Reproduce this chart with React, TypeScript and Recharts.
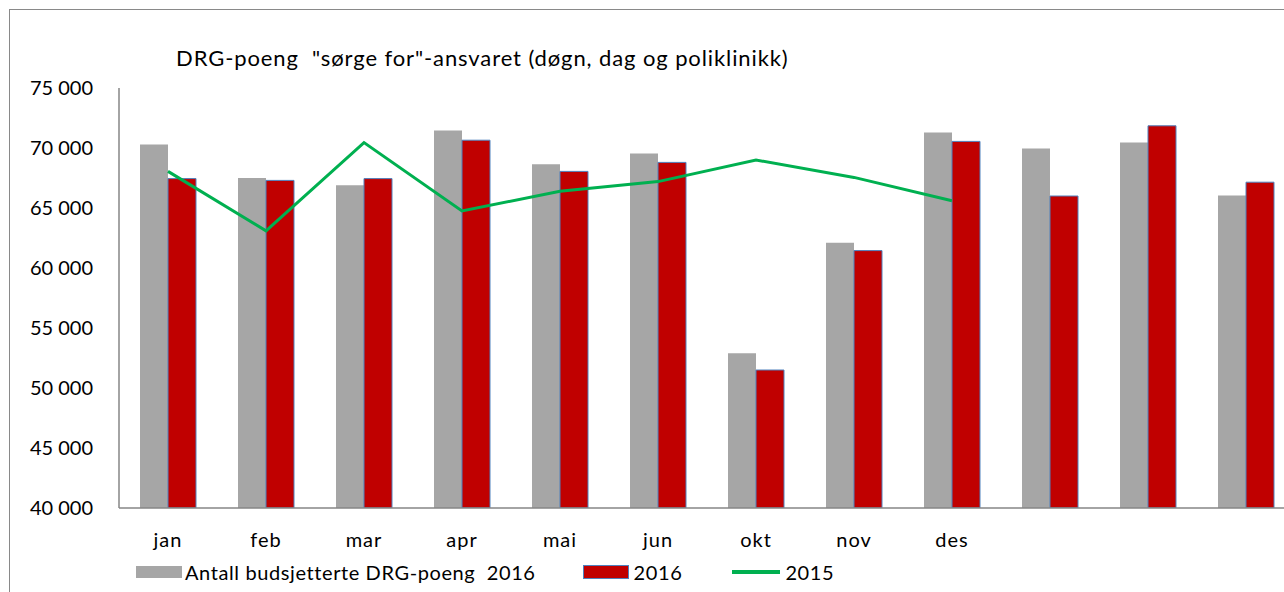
import { ComposedChart, Bar, Line, XAxis, YAxis } from 'recharts';

const months = ['jan', 'feb', 'mar', 'apr', 'mai', 'jun', 'okt', 'nov', 'des', '', '', ''];
const budget2016 = [70300, 67500, 66900, 71450, 68650, 69550, 52900, 62100, 71300, 69950, 70450, 66050];
const actual2016 = [67450, 67300, 67450, 70650, 68050, 68800, 51500, 61450, 70550, 66000, 71850, 67150];
const actual2015 = [68050, 63100, 70450, 64750, 66400, 67200, 69000, 67550, 65600, null, null, null];
const yTicks = [40000, 45000, 50000, 55000, 60000, 65000, 70000, 75000];

const data = months.map((m, i) => ({
  month: m,
  budget: budget2016[i],
  actual: actual2016[i],
  prev: actual2015[i],
}));

const font = 'Lato, "Open Sans", sans-serif';

const fmt = (v: number) => `${Math.floor(v / 1000)} ${String(v % 1000).padStart(3, '0')}`;

export default function App() {
  return (
    <div
      style={{
        position: 'fixed',
        left: 0,
        top: 0,
        width: 1284,
        height: 592,
        overflow: 'hidden',
        background: '#fff',
        fontFamily: font,
      }}
    >
      <div
        style={{
          position: 'absolute',
          left: 9,
          top: 9,
          width: 1400,
          height: 700,
          borderLeft: '1px solid #898989',
          borderTop: '1px solid #898989',
        }}
      />
      <div
        style={{
          position: 'absolute',
          left: 176,
          top: 44,
          fontSize: 22,
          letterSpacing: 0.9,
          whiteSpace: 'pre',
          color: '#000',
        }}
      >
        DRG-poeng  "sørge for"-ansvaret (døgn, dag og poliklinikk)
      </div>
      <ComposedChart
        width={1310}
        height={592}
        data={data}
        barGap={0}
        margin={{ top: 88, right: 15, bottom: 54, left: 19 }}
        style={{ position: 'absolute', left: 0, top: 0 }}
      >
        <XAxis
          dataKey="month"
          height={30}
          tickLine={false}
          axisLine={{ stroke: '#868686', strokeWidth: 1.5 }}
          tickSize={0}
          tickMargin={25}
          tick={{ fontSize: 20, fill: '#000', fontFamily: font, letterSpacing: 1 }}
          interval={0}
        />
        <YAxis
          width={100}
          domain={[40000, 75000]}
          ticks={yTicks}
          tickFormatter={fmt}
          tickLine={false}
          tickSize={0}
          tickMargin={26}
          axisLine={{ stroke: '#868686', strokeWidth: 1.5 }}
          tick={{ fontSize: 20, fill: '#000', fontFamily: font }}
          allowDataOverflow
        />
        <Bar dataKey="budget" fill="#A6A6A6" barSize={28} isAnimationActive={false} />
        <Bar
          dataKey="actual"
          fill="#C00000"
          stroke="#4F81BD"
          strokeWidth={1}
          barSize={28}
          isAnimationActive={false}
        />
        <Line
          dataKey="prev"
          stroke="#00B050"
          strokeWidth={3}
          dot={false}
          type="linear"
          isAnimationActive={false}
        />
      </ComposedChart>
      <div
        style={{
          position: 'absolute',
          left: 136,
          top: 560,
          display: 'flex',
          alignItems: 'center',
          fontSize: 20,
          letterSpacing: 0.6,
          color: '#000',
          whiteSpace: 'pre',
        }}
      >
        <span style={{ display: 'inline-block', width: 46, height: 12, background: '#A6A6A6' }} />
        <span style={{ marginLeft: 3 }}>Antall budsjetterte DRG-poeng  2016</span>
        <span
          style={{
            display: 'inline-block',
            width: 44,
            height: 12,
            background: '#C00000',
            border: '1px solid #4F81BD',
            marginLeft: 47,
          }}
        />
        <span style={{ marginLeft: 5 }}>2016</span>
        <span
          style={{
            display: 'inline-block',
            width: 48,
            height: 4,
            background: '#00B050',
            marginLeft: 50,
          }}
        />
        <span style={{ marginLeft: 5 }}>2015</span>
      </div>
    </div>
  );
}
